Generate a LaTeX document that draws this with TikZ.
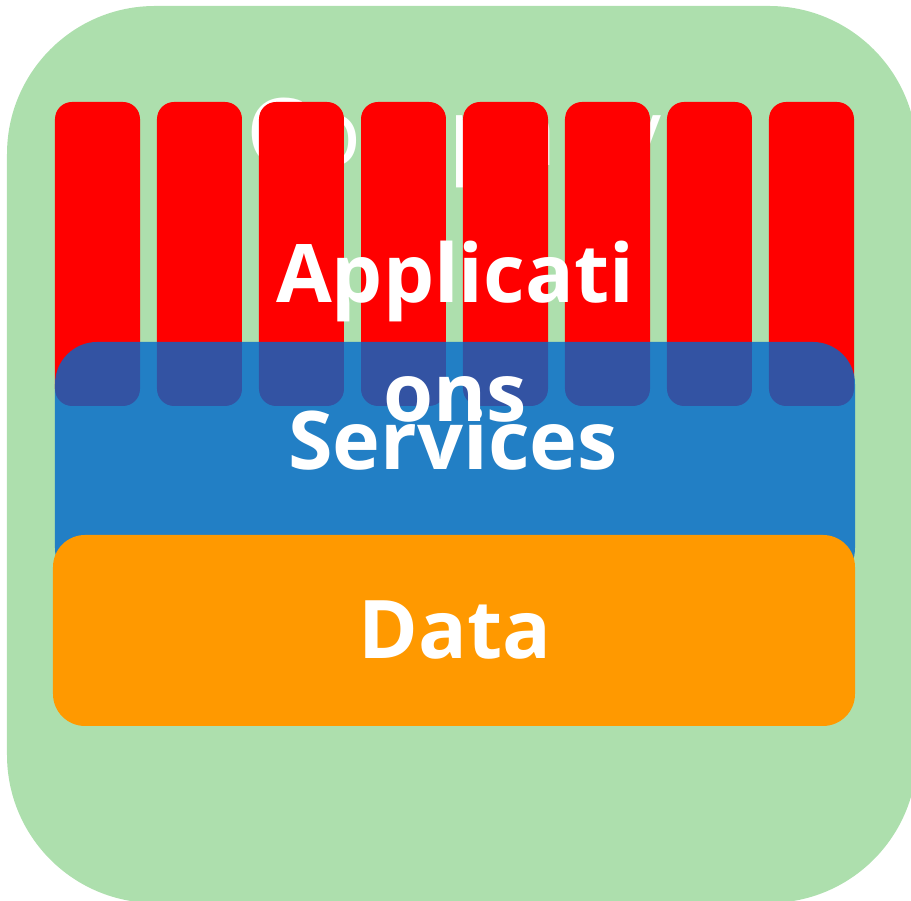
\documentclass[tikz,border=0pt]{standalone}
\usepackage{fontspec}
\setmainfont{Open Sans}
\usepackage{xcolor}

\definecolor{bggreen}{RGB}{173,223,173}
\definecolor{appred}{RGB}{255,0,0}
\definecolor{srvblue}{RGB}{0,104,204}
\definecolor{dataorange}{RGB}{255,153,0}

\begin{document}
\begin{tikzpicture}[x=0.01cm, y=-0.01cm,
    layer/.style={white, font=\bfseries\fontsize{23}{34}\selectfont}]

% Canvas
\useasboundingbox (0,0) rectangle (911,901);
\clip (0,0) rectangle (911,901);

% Company (green background)
\fill[bggreen, rounded corners=1.48cm] (7,6) rectangle (917,903);
\node[white, anchor=base, font=\fontsize{26.5}{34}\selectfont] (company) at (454,166) {Company};

% Applications (red columns)
\foreach \i in {0,...,7} {
    \fill[appred, rounded corners=0.17cm] (55+\i*102,102) rectangle (140+\i*102,406);
}

% Services (blue band, see-through)
\fill[srvblue, fill opacity=0.8, rounded corners=0.42cm] (55,342) rectangle (855,590);

% Data (orange band)
\fill[dataorange, rounded corners=0.32cm] (53,535) rectangle (855,726);

% Labels
\node[layer, align=center, anchor=base] (applications) at (455,422) {Applicati\\ons};
\node[layer, anchor=base] (services) at (453,470) {Services};
\node[layer, anchor=base] (data) at (455,659) {Data};

\end{tikzpicture}
\end{document}
